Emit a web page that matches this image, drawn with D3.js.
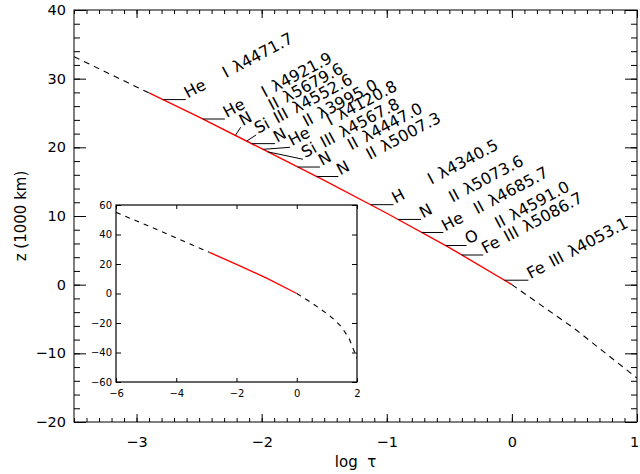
<!DOCTYPE html>
<html><head><meta charset="utf-8">
<script src="https://cdn.jsdelivr.net/npm/d3@7"></script>
<style>
body{margin:0;background:#fff}
svg{display:block}
text{font-family:"DejaVu Sans",sans-serif;fill:#000}
</style>
</head><body>
<svg id="c" width="640" height="474"></svg>
<script>
// ---- data ----
const logTau = [-3.5, -3, -2.5, -2, -1.5, -1, -0.5, 0, 0.5, 1];
const zMain = [33.2, 28.8, 24.4, 19.8, 15.2, 10.4, 5.4, 0, -6.4, -13.6];
const insetLogTau = [-6, -5, -4, -3, -2, -1, 0, 0.5, 1, 1.25, 1.5, 1.75, 2];
const insetZ = [55, 46.5, 37.6, 28.8, 19.8, 10.4, 0, -6.4, -13.6, -17.8, -23, -31, -44];
const fitRange = [-2.9, 0];
const elements = ["He","He","N","Si","N","He","Si","N","N","H","N","He","O","Fe","Fe"];
const ions = ["I","I","II","III","II","I","III","II","II","I","II","II","II","III","III"];
const wavelengths = ["4471.7","4921.9","5679.6","4552.6","3995.0","4120.8","4567.8","4447.0","5007.3","4340.5","5073.6","4685.7","4591.0","5086.7","4053.1"];
const labelLogTau = [-2.79,-2.47,-2.21,-2.12,-2.08,-1.99,-1.95,-1.71,-1.56,-1.13,-0.91,-0.72,-0.53,-0.40,-0.06];
const xTicks = [-3, -2, -1, 0, 1];
const yTicks = [-20, -10, 0, 10, 20, 30, 40];
const insetXTicks = [-6, -4, -2, 0, 2];
const insetYTicks = [-60, -40, -20, 0, 20, 40, 60];

// ---- layout (pixels) ----
const leaderOffsets = [[23,0],[22,0],[5.3,-8.2],[9.4,-6.2],[23.4,0],[27,-2],[35,7.4],[22,0],[21.6,0],[23,0],[23,0],[21.5,0],[21,0],[21.4,0],[24,0]];
const M = {l:74, r:637, t:10, b:422};
const I = {l:116, r:357, t:205, b:382};

const svg = d3.select("#c");
const fmt = d => d < 0 ? "\u2212" + Math.abs(d) : String(d);

const x = d3.scaleLinear().domain([-3.5, 1]).range([M.l, M.r]);
const y = d3.scaleLinear().domain([-20, 40]).range([M.b, M.t]);
const curve = d3.scaleLinear().domain(logTau).range(zMain);

function seg(a, b, ts, sc) {
  return [a, ...ts.filter(t => t > a && t < b), b].map(t => [t, sc(t)]);
}
function styleAxis(g) {
  g.selectAll("path.domain").remove();
  g.selectAll("line").attr("stroke", "#000").attr("stroke-width", 1);
}

// main axes ticks
const minorX = d3.range(-35, 11).map(v => v / 10);
const minorY = d3.range(-20, 41, 2);
function addAxes(gen, tr, major, minor, sc, size, msize, pad, labels, fs) {
  const g1 = svg.append("g").attr("transform", tr)
    .call(gen(sc).tickValues(minor).tickSizeInner(-msize).tickSizeOuter(0).tickFormat(""));
  styleAxis(g1);
  const g2 = svg.append("g").attr("transform", tr)
    .call(gen(sc).tickValues(major).tickSizeInner(-size).tickSizeOuter(0).tickPadding(pad)
      .tickFormat(labels ? fmt : ""));
  styleAxis(g2);
  g2.selectAll("text").attr("font-size", fs).attr("font-family", "DejaVu Sans, sans-serif");
  return g2;
}
const gxb = addAxes(d3.axisBottom, `translate(0,${M.b})`, xTicks, minorX, x, 8, 4, 15, true, 14.5);
gxb.selectAll("text").filter(d => d === xTicks[xTicks.length - 1]).attr("dx", "-3");
addAxes(d3.axisTop, `translate(0,${M.t})`, xTicks, minorX, x, 8, 4, 3, false, 14.5);
addAxes(d3.axisLeft, `translate(${M.l},0)`, yTicks, minorY, y, 12, 6, 8, true, 14.5);
addAxes(d3.axisRight, `translate(${M.r},0)`, yTicks, minorY, y, 12, 6, 3, false, 14.5);
svg.append("rect").attr("x", M.l).attr("y", M.t).attr("width", M.r - M.l).attr("height", M.b - M.t)
  .attr("fill", "none").attr("stroke", "#000").attr("stroke-width", 1);

svg.append("text").attr("x", (M.l + M.r) / 2).attr("y", 467).attr("text-anchor", "middle")
  .attr("font-size", 15).style("white-space", "pre").text("log  \u03c4");
svg.append("text").attr("transform", `translate(26,${(M.t + M.b) / 2}) rotate(-90)`)
  .attr("text-anchor", "middle").attr("font-size", 15).text("z (1000 km)");

// main curve
svg.append("clipPath").attr("id", "clipM").append("rect")
  .attr("x", M.l).attr("y", M.t).attr("width", M.r - M.l).attr("height", M.b - M.t);
const line = d3.line().x(d => x(d[0])).y(d => y(d[1]));
const gm = svg.append("g").attr("clip-path", "url(#clipM)");
[seg(logTau[0], fitRange[0], logTau, curve), seg(fitRange[1], logTau[logTau.length - 1], logTau, curve)]
  .forEach(p => gm.append("path").attr("d", line(p)).attr("fill", "none")
    .attr("stroke", "#000").attr("stroke-width", 1.1).attr("stroke-dasharray", "6,5"));
gm.append("path").attr("d", line(seg(fitRange[0], fitRange[1], logTau, curve))).attr("fill", "none")
  .attr("stroke", "#ff0000").attr("stroke-width", 1.4);

// line labels
elements.forEach((el, i) => {
  const t = labelLogTau[i];
  const px = x(t), py = y(curve(t));
  const ex = px + leaderOffsets[i][0], ey = py + leaderOffsets[i][1];
  svg.append("line").attr("x1", px).attr("y1", py).attr("x2", ex).attr("y2", ey)
    .attr("stroke", "#000").attr("stroke-width", 1);
  const s = el.padEnd(2, " ") + " " + ions[i].padStart(3, " ") + " \u03bb" + wavelengths[i];
  svg.append("text").attr("transform", `translate(${ex + 2},${ey - 1}) rotate(-28)`)
    .attr("font-size", 16).style("white-space", "pre").style("word-spacing", "2px")
    .text(s);
});

// inset
svg.append("rect").attr("x", I.l).attr("y", I.t).attr("width", I.r - I.l).attr("height", I.b - I.t)
  .attr("fill", "#fff").attr("stroke", "none");
const xi = d3.scaleLinear().domain([-6, 2]).range([I.l, I.r]);
const yi = d3.scaleLinear().domain([-60, 60]).range([I.b, I.t]);
const curveI = d3.scaleLinear().domain(insetLogTau).range(insetZ);
function addInset(gen, tr, major, sc, size, pad, labels) {
  const g = svg.append("g").attr("transform", tr)
    .call(gen(sc).tickValues(major).tickSizeInner(-size).tickSizeOuter(0).tickPadding(pad)
      .tickFormat(labels ? fmt : ""));
  styleAxis(g);
  g.selectAll("text").attr("font-size", 10).attr("font-family", "DejaVu Sans, sans-serif");
}
addInset(d3.axisBottom, `translate(0,${I.b})`, insetXTicks, xi, 4, 8, true);
addInset(d3.axisTop, `translate(0,${I.t})`, insetXTicks, xi, 4, 3, false);
addInset(d3.axisLeft, `translate(${I.l},0)`, insetYTicks, yi, 5, 4, true);
addInset(d3.axisRight, `translate(${I.r},0)`, insetYTicks, yi, 5, 3, false);
svg.append("rect").attr("x", I.l).attr("y", I.t).attr("width", I.r - I.l).attr("height", I.b - I.t)
  .attr("fill", "none").attr("stroke", "#000").attr("stroke-width", 1.2);
svg.append("clipPath").attr("id", "clipI").append("rect")
  .attr("x", I.l).attr("y", I.t).attr("width", I.r - I.l).attr("height", I.b - I.t);
const linei = d3.line().x(d => xi(d[0])).y(d => yi(d[1]));
const gi = svg.append("g").attr("clip-path", "url(#clipI)");
[seg(insetLogTau[0], fitRange[0], insetLogTau, curveI), seg(fitRange[1], insetLogTau[insetLogTau.length - 1], insetLogTau, curveI)]
  .forEach(p => gi.append("path").attr("d", linei(p)).attr("fill", "none")
    .attr("stroke", "#000").attr("stroke-width", 1.1).attr("stroke-dasharray", "5,5"));
gi.append("path").attr("d", linei(seg(fitRange[0], fitRange[1], insetLogTau, curveI))).attr("fill", "none")
  .attr("stroke", "#ff0000").attr("stroke-width", 1.4);
</script>
</body></html>
